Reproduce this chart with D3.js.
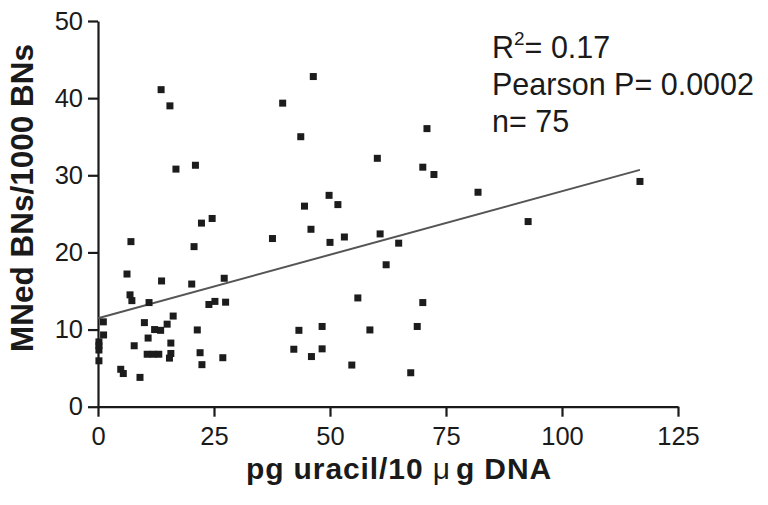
<!DOCTYPE html>
<html>
<head>
<meta charset="utf-8">
<script src="https://cdn.jsdelivr.net/npm/d3@7"></script>
<style>
  html, body { margin: 0; padding: 0; background: #fff; }
  svg text { font-family: Arial, "Liberation Sans", Helvetica, sans-serif; fill: #1a1a1a; }
</style>
</head>
<body>
<svg id="chart" width="768" height="505"></svg>
<script>
// Uracil content (pg / 10 µg DNA) per subject
const uracil = [
  13.6, 15.5, 39.8, 16.8, 21.0, 22.3, 24.6, 7.1, 20.7, 37.6,
  6.25, 13.7, 20.2, 27.2, 6.9, 7.3, 11.0, 23.9, 25.2, 27.5,
  1.15, 10.0, 16.2, 14.9, 13.5, 21.4, 1.2, 0.2, 0.2, 0.2,
  0.2, 10.8, 7.8, 15.7, 10.6, 11.9, 13.1, 15.7, 15.4, 4.9,
  5.45, 9.05, 22.0, 22.4, 26.9, 46.4, 43.7, 70.9, 60.2, 70.0,
  72.4, 81.9, 49.8, 51.7, 44.5, 45.9, 50.0, 53.1, 60.8, 64.8,
  62.1, 56.0, 70.0, 43.3, 48.3, 58.6, 68.8, 42.2, 46.0, 48.3,
  54.7, 67.4, 92.7, 116.8, 12.2
];
// Micronucleated binucleated cells per 1000 BNs, same subjects
const mnedBN = [
  41.1, 39.0, 39.35, 30.8, 31.3, 23.8, 24.4, 21.4, 20.75, 21.8,
  17.2, 16.3, 15.9, 16.65, 14.5, 13.75, 13.5, 13.25, 13.65, 13.55,
  11.0, 10.9, 11.75, 10.7, 9.9, 9.95, 9.3, 8.4, 7.9, 7.35,
  5.95, 8.9, 7.9, 8.25, 6.8, 6.8, 6.8, 6.9, 6.3, 4.85,
  4.3, 3.8, 7.0, 5.45, 6.35, 42.8, 35.0, 36.05, 32.2, 31.05,
  30.1, 27.8, 27.4, 26.2, 26.0, 23.0, 21.3, 22.0, 22.4, 21.2,
  18.4, 14.1, 13.5, 9.9, 10.4, 9.95, 10.4, 7.45, 6.5, 7.5,
  5.4, 4.4, 24.0, 29.2, 10.0
];
// Linear regression line endpoints
const fitX = [0, 116.8];
const fitY = [11.47, 30.7];

const xTicks = [0, 25, 50, 75, 100, 125];
const yTicks = [0, 10, 20, 30, 40, 50];
const statsLines = ["Pearson P= 0.0002", "n= 75"];
const r2Value = "= 0.17";

const svg = d3.select("#chart");

const x = d3.scaleLinear().domain([0, 125]).range([98, 678]);
const y = d3.scaleLinear().domain([0, 50]).range([406.7, 21]);

// Axes
const xAxis = svg.append("g")
  .attr("transform", `translate(0,${y(0)})`)
  .call(d3.axisBottom(x).tickValues(xTicks).tickSize(10).tickSizeOuter(0).tickPadding(10));
const yAxis = svg.append("g")
  .attr("transform", `translate(${x(0)},0)`)
  .call(d3.axisLeft(y).tickValues(yTicks).tickSize(10).tickSizeOuter(0).tickPadding(5));

[xAxis, yAxis].forEach(g => {
  g.selectAll("path.domain").attr("stroke", "#1a1a1a").attr("stroke-width", 2.2);
  g.selectAll(".tick line").attr("stroke", "#1a1a1a").attr("stroke-width", 2.2);
  g.selectAll(".tick text")
    .attr("font-size", 25.5)
    .attr("fill", "#1a1a1a")
    .style("font-family", "Arial, 'Liberation Sans', sans-serif");
});

// Regression line
svg.append("line")
  .attr("x1", x(fitX[0])).attr("y1", y(fitY[0]))
  .attr("x2", x(fitX[1])).attr("y2", y(fitY[1]))
  .attr("stroke", "#555")
  .attr("stroke-width", 2);

// Data points as squares
const size = 7;
svg.append("g")
  .selectAll("rect")
  .data(uracil.map((u, i) => [u, mnedBN[i]]))
  .join("rect")
  .attr("x", d => x(d[0]) - size / 2)
  .attr("y", d => y(d[1]) - size / 2)
  .attr("width", size)
  .attr("height", size)
  .attr("fill", "#1c1c1c");

// Axis titles
const xTitle = svg.append("text")
  .attr("x", 399).attr("y", 479)
  .attr("text-anchor", "middle")
  .attr("font-size", 30)
  .attr("font-weight", "bold")
  .attr("letter-spacing", 0.9);
xTitle.append("tspan").text("pg uracil/10 ");
xTitle.append("tspan").attr("font-weight", "normal").text("\u03bc");
xTitle.append("tspan").attr("dx", 5).text("g DNA");

svg.append("text")
  .attr("transform", "translate(33,198) rotate(-90)")
  .attr("text-anchor", "middle")
  .attr("font-size", 31.5)
  .attr("font-weight", "bold")
  .text("MNed BNs/1000 BNs");

// Statistics annotation
const stats = svg.append("g").attr("transform", "translate(492,0)");
const r2 = stats.append("text").attr("y", 58).attr("font-size", 30.5);
r2.append("tspan").text("R");
r2.append("tspan").attr("font-size", 19).attr("dy", -13).text("2");
r2.append("tspan").attr("dy", 13).text(r2Value);
stats.selectAll("text.line")
  .data(statsLines)
  .join("text")
  .attr("class", "line")
  .attr("y", (d, i) => 95 + i * 36.5)
  .attr("font-size", 30.5)
  .text(d => d);
</script>
</body>
</html>
